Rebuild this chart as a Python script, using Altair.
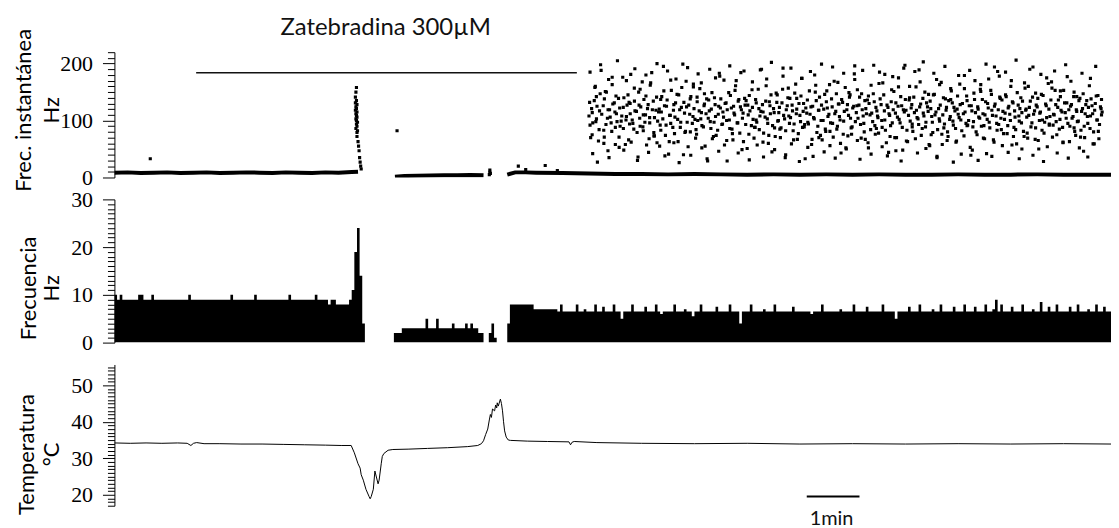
import altair as alt
import pandas as pd

# ---------------- data (time in minutes) ----------------
X_MAX = 18.9

# top panel: dense low-frequency baseline (drawn as thick line segments)
base1_t = [0, 0.25, 0.5, 0.75, 1.0, 1.25, 1.5, 1.75, 2.0, 2.25, 2.5, 2.75, 3.0, 3.25, 3.5, 3.75, 4.0, 4.25, 4.5, 4.62]
base1_f = [8.5, 9, 8, 8.5, 9, 8, 8.5, 9, 8, 8.5, 9, 8.5, 8, 9, 8.5, 8, 9, 8.5, 9.5, 10]
base2_t = [5.32, 5.5, 5.75, 6.0, 6.25, 6.5, 6.75, 7.0]
base2_f = [1.5, 2.5, 3, 3.5, 4, 4, 4.5, 4]
base3_t = [7.45, 7.6, 7.8, 8.0, 8.5, 9.0, 9.5, 10, 10.5, 11, 11.5, 12, 12.5, 13, 13.5, 14, 14.5,
           15, 15.5, 16, 16.5, 17, 17.5, 18, 18.5, 18.95]
base3_f = [5, 9, 9, 8.5, 8, 7, 6, 6, 5.5, 6, 5.5, 5, 5.5, 5, 5.5, 5, 5.5, 5, 5, 5.5, 5, 5, 5.5, 5, 5, 5]

# top panel: isolated points (outlier, burst, blip)
burst_t = [4.59, 4.58, 4.57, 4.59, 4.57, 4.60, 4.58, 4.59, 4.57, 4.60, 4.58, 4.59, 4.60, 4.58, 4.59,
           4.61, 4.59, 4.60, 4.58, 4.61, 4.60, 4.60, 4.62, 4.63, 4.64, 4.65, 4.66, 4.67, 4.68]
burst_f = [158, 150, 141, 135, 131, 128, 124, 121, 118, 115, 112, 109, 106, 103, 100,
           97, 94, 90, 86, 82, 79, 72, 63, 55, 47, 35, 27, 20, 15]
extra_t = [0.68, 5.36, 7.11, 7.12, 7.12, 7.13, 7.66, 7.80, 8.17, 8.40]
extra_f = [33, 82, 5, 9, 13, 7, 20, 14, 21, 12]

# top panel: high-frequency cloud after washout
cloud_t = [
    9.00, 9.02, 9.05, 9.06, 9.10, 9.13, 9.14, 9.18, 9.20, 9.23, 9.27, 9.28,
    9.31, 9.35, 9.36, 9.39, 9.42, 9.44, 9.48, 9.50, 9.52, 9.56, 9.57, 9.61,
    9.64, 9.65, 9.69, 9.71, 9.74, 9.77, 9.78, 9.82, 9.85, 9.86, 9.90, 9.93,
    9.95, 9.97, 10.01, 10.03, 10.06, 10.08, 10.11, 10.14, 10.15, 10.19, 10.22, 10.23,
    10.27, 10.29, 10.32, 10.35, 10.36, 10.40, 10.42, 10.45, 10.47, 10.51, 10.53, 10.55,
    10.59, 10.61, 10.63, 10.67, 10.69, 10.72, 10.74, 10.78, 10.80, 10.83, 10.85, 10.88,
    10.91, 10.92, 10.96, 10.98, 11.01, 11.04, 11.05, 11.09, 11.12, 11.13, 11.17, 11.19,
    11.22, 11.25, 11.27, 11.30, 11.32, 11.36, 11.38, 11.40, 11.44, 11.46, 11.48, 11.52,
    11.54, 11.57, 11.60, 11.61, 11.65, 11.67, 11.70, 11.73, 11.75, 11.78, 11.81, 11.83,
    11.86, 11.89, 11.91, 11.94, 11.96, 12.00, 12.02, 12.04, 12.08, 12.10, 12.13, 12.16,
    12.17, 12.21, 12.23, 12.26, 12.29, 12.30, 12.34, 12.37, 12.39, 12.42, 12.44, 12.47,
    12.50, 12.52, 12.55, 12.58, 12.60, 12.63, 12.66, 12.68, 12.71, 12.73, 12.76, 12.79,
    12.81, 12.84, 12.86, 12.89, 12.92, 12.94, 12.97, 13.00, 13.02, 13.05, 13.07, 13.10,
    13.13, 13.15, 13.18, 13.21, 13.23, 13.26, 13.28, 13.31, 13.34, 13.36, 13.39, 13.41,
    13.44, 13.47, 13.49, 13.52, 13.55, 13.57, 13.60, 13.62, 13.65, 13.68, 13.70, 13.73,
    13.75, 13.78, 13.81, 13.83, 13.86, 13.89, 13.91, 13.94, 13.96, 13.99, 14.02, 14.04,
    14.07, 14.09, 14.12, 14.15, 14.17, 14.20, 14.22, 14.25, 14.28, 14.30, 14.33, 14.35,
    14.38, 14.41, 14.43, 14.46, 14.48, 14.51, 14.54, 14.56, 14.59, 14.61, 14.64, 14.67,
    14.69, 14.72, 14.74, 14.77, 14.80, 14.82, 14.85, 14.87, 14.90, 14.93, 14.95, 14.98,
    15.00, 15.03, 15.06, 15.08, 15.11, 15.13, 15.16, 15.19, 15.21, 15.24, 15.26, 15.29,
    15.32, 15.34, 15.37, 15.39, 15.42, 15.45, 15.47, 15.50, 15.52, 15.55, 15.58, 15.60,
    15.63, 15.65, 15.68, 15.71, 15.73, 15.76, 15.78, 15.81, 15.84, 15.86, 15.89, 15.91,
    15.94, 15.97, 15.99, 16.02, 16.04, 16.07, 16.10, 16.12, 16.15, 16.17, 16.20, 16.23,
    16.25, 16.28, 16.30, 16.33, 16.36, 16.38, 16.41, 16.43, 16.46, 16.49, 16.51, 16.54,
    16.56, 16.59, 16.62, 16.64, 16.67, 16.69, 16.72, 16.75, 16.77, 16.80, 16.82, 16.85,
    16.88, 16.90, 16.93, 16.95, 16.98, 17.01, 17.03, 17.06, 17.08, 17.11, 17.14, 17.16,
    17.19, 17.21, 17.24, 17.27, 17.29, 17.32, 17.34, 17.37, 17.40, 17.42, 17.45, 17.47,
    17.50, 17.53, 17.55, 17.58, 17.60, 17.63, 17.66, 17.68, 17.71, 17.73, 17.76, 17.79,
    17.81, 17.84, 17.86, 17.89, 17.92, 17.94, 17.97, 17.99, 18.02, 18.05, 18.07, 18.10,
    18.12, 18.15, 18.18, 18.20, 18.23, 18.25, 18.28, 18.31, 18.33, 18.36, 18.38, 18.41,
    18.44, 18.46, 18.49, 18.51, 18.54, 18.57, 18.59, 18.62, 18.64, 18.67, 18.70, 18.72,
    18.75, 18.77, 18.80, 18.83, 18.85, 18.88, 18.89, 18.87, 18.84, 18.78, 18.73, 18.66,
]
cloud_fa = [
    108, 92, 121, 75, 135, 98, 142, 64, 117, 188, 126, 83,
    151, 104, 47, 119, 96, 163, 131, 88, 112, 139, 71, 99,
    176, 123, 58, 107, 145, 94, 130, 101, 85, 157, 116, 36,
    127, 90, 168, 110, 97, 143, 121, 68, 105, 184, 134, 79,
    118, 61, 115, 92, 137, 103, 152, 74, 125, 41, 109, 171,
    88, 128, 106, 146, 63, 119, 97, 199, 132, 81, 124, 54,
    111, 138, 95, 159, 102, 76, 141, 117, 103, 166, 89, 129,
    112, 29, 136, 98, 120, 72, 140, 107, 83, 125, 178, 93,
    115, 57, 131, 100, 149, 86, 122, 66, 113, 161, 96, 134,
    78, 119, 104, 187, 127, 51, 110, 144, 91, 123, 69, 137,
    101, 155, 84, 116, 128, 62, 106, 173, 95, 133, 112, 45,
    121, 87, 148, 99, 114, 70, 131, 192, 103, 82, 126, 108,
    139, 59, 117, 94, 164, 120, 77, 109, 143, 88, 130, 33,
    113, 97, 152, 124, 67, 105, 180, 135, 90, 118, 74, 127,
    100, 146, 81, 122, 111, 56, 138, 95, 169, 116, 85, 129,
    107, 43, 132, 99, 158, 119, 73, 141, 104, 89, 125, 196,
    114, 65, 127, 93, 147, 108, 80, 121, 136, 52, 110, 162,
    98, 133, 76, 117, 105, 185, 128, 88, 145, 101, 61, 123,
    112, 91, 154, 119, 70, 131, 106, 175, 96, 126, 48, 115,
    137, 83, 109, 160, 122, 94, 141, 68, 118, 103, 189, 129,
    86, 113, 150, 97, 124, 58, 134, 107, 79, 146, 115, 37,
    121, 99, 167, 110, 87, 138, 123, 72, 102, 156, 131, 92,
    117, 64, 143, 105, 128, 82, 112, 179, 95, 135, 100, 53,
    126, 89, 148, 114, 75, 120, 104, 163, 137, 91, 110, 42,
    130, 97, 153, 118, 66, 125, 108, 186, 93, 139, 84, 116,
    102, 145, 77, 122, 111, 170, 133, 88, 106, 59, 127, 99,
    140, 114, 81, 157, 120, 69, 109, 134, 96, 194, 117, 87,
    124, 50, 113, 146, 101, 78, 129, 105, 165, 92, 136, 71,
    111, 153, 98, 123, 85, 142, 115, 62, 131, 104, 177, 119,
    90, 128, 107, 150, 74, 116, 99, 139, 83, 121, 46, 112,
    135, 95, 161, 108, 126, 80, 118, 143, 101, 68, 124, 110,
]
cloud_fb = [
    132, 70, 114, 96, 158, 103, 125, 84, 147, 111, 60, 138,
    93, 119, 172, 106, 81, 129, 115, 143, 98, 53, 122, 108,
    86, 140, 101, 127, 66, 112, 181, 95, 134, 117, 79, 150,
    104, 124, 89, 137, 110, 57, 128, 96, 162, 119, 73, 105,
    141, 99, 120, 83, 115, 195, 126, 92, 136, 63, 109, 153,
    118, 77, 131, 102, 145, 88, 123, 40, 113, 169, 97, 127,
    80, 142, 107, 121, 69, 133, 100, 156, 114, 91, 126, 55,
    138, 104, 117, 86, 149, 97, 128, 74, 111, 183, 122, 94,
    106, 130, 65, 119, 101, 144, 85, 125, 110, 170, 96, 137,
    124, 49, 113, 139, 93, 127, 76, 117, 154, 102, 88, 131,
    97, 121, 108, 190, 115, 78, 134, 103, 60, 126, 145, 91,
    114, 72, 132, 100, 123, 87, 155, 109, 35, 119, 140, 95,
    105, 127, 82, 148, 112, 67, 130, 98, 174, 116, 89, 122,
    136, 94, 111, 58, 125, 103, 150, 79, 118, 141, 100, 66,
    120, 85, 133, 107, 163, 96, 124, 71, 112, 147, 90, 129,
    101, 137, 76, 116, 52, 128, 109, 145, 87, 122, 182, 98,
    126, 104, 141, 69, 119, 95, 135, 112, 61, 130, 84, 113,
    147, 91, 123, 108, 78, 138, 100, 166, 117, 83, 127, 44,
    109, 133, 96, 151, 113, 70, 125, 102, 142, 88, 119, 197,
    118, 63, 136, 99, 128, 81, 114, 159, 105, 93, 124, 74,
    139, 108, 89, 131, 116, 56, 121, 97, 145, 110, 172, 84,
    103, 127, 76, 140, 94, 118, 65, 135, 107, 152, 99, 123,
    86, 120, 111, 164, 101, 130, 73, 115, 143, 92, 126, 39,
    117, 98, 137, 80, 124, 106, 155, 90, 112, 68, 133, 102,
    122, 87, 146, 109, 62, 129, 95, 119, 178, 104, 136, 77,
    113, 142, 91, 125, 100, 57, 131, 117, 84, 149, 108, 121,
    96, 134, 72, 118, 106, 160, 123, 89, 141, 111, 67, 127,
    139, 100, 115, 83, 144, 97, 126, 54, 120, 107, 168, 92,
    110, 128, 75, 136, 102, 118, 88, 153, 114, 131, 95, 63,
    125, 104, 142, 81, 119, 98, 135, 71, 116, 147, 90, 128,
    107, 123, 86, 138, 112, 59, 130, 101, 144, 93, 121, 115,
]
# wider-spread points of the cloud (paired with every other time of cloud_t)
cloud_fc = [
    185, 42, 160, 27, 198, 71, 150, 35, 176, 58, 205, 90,
    48, 170, 132, 62, 191, 30, 155, 82, 180, 44, 166, 73,
    200, 55, 142, 38, 187, 95, 61, 173, 26, 158, 79, 193,
    39, 164, 84, 182, 52, 147, 33, 190, 68, 175, 46, 138,
    171, 29, 196, 77, 153, 43, 184, 63, 135, 31, 168, 88,
    57, 189, 36, 161, 74, 202, 49, 145, 85, 178, 40, 157,
    192, 66, 139, 28, 174, 93, 53, 186, 37, 162, 70, 199,
    45, 152, 81, 194, 34, 167, 60, 183, 50, 149, 76, 172,
    154, 32, 188, 67, 143, 41, 197, 86, 165, 54, 181, 38,
    72, 177, 47, 159, 29, 192, 64, 140, 89, 186, 43, 168,
    203, 51, 146, 75, 183, 35, 163, 58, 195, 80, 137, 27,
    62, 179, 41, 156, 91, 188, 48, 170, 30, 151, 69, 199,
    173, 37, 194, 83, 141, 56, 185, 44, 160, 72, 206, 33,
    50, 166, 78, 190, 39, 148, 65, 181, 28, 175, 94, 157,
    187, 43, 152, 61, 198, 34, 169, 87, 142, 52, 183, 70,
    36, 174, 59, 195, 81, 137,
]

# middle panel: binned frequency (Hz), 0.05-min bins starting at t = 0
BIN = 0.05
hist_v = [
    10, 9, 10, 9, 9, 9, 9, 9, 9, 10, 10, 9, 9, 9, 10, 9, 9, 9, 9, 9,
    9, 9, 9, 9, 9, 9, 9, 9, 10, 9, 9, 9, 9, 9, 9, 9, 9, 9, 9, 9,
    9, 9, 9, 9, 10, 9, 9, 9, 9, 9, 9, 9, 9, 10, 9, 9, 9, 9, 9, 9,
    9, 9, 9, 9, 9, 9, 10, 9, 9, 9, 9, 9, 9, 9, 9, 9, 10, 9, 9, 9,
    9, 8, 9, 9, 8, 8, 8, 8, 8, 9, 11, 19, 24, 14, 4, 0, 0, 0, 0, 0,
    0, 0, 0, 0, 0, 0, 2, 2, 2, 3, 3, 3, 3, 3, 3, 3, 3, 3, 5, 3,
    3, 3, 5, 3, 3, 3, 3, 3, 4, 3, 3, 3, 3, 4, 3, 4, 3, 3, 2, 2,
    0, 0, 2, 4, 1, 0, 0, 0, 0, 4, 8, 8, 8, 8, 8, 8, 8, 8, 8, 7,
    7, 7, 7, 7, 7, 7, 7, 7, 6.5, 8, 6.5, 6.5, 6.5, 6.5, 6.5, 8, 6.5, 6.5, 7, 6.5,
    6.5, 6.5, 8, 6.5, 6.5, 7.5, 6.5, 6.5, 6.5, 8, 6.5, 6.5, 5, 6.5, 6.5, 6.5, 8, 6.5, 6.5, 6.5,
    6.5, 7.5, 6.5, 6.5, 6.5, 8, 6.5, 6, 6.5, 6.5, 6.5, 6.5, 8, 6.5, 6.5, 6.5, 7, 6.5, 6.5, 5.5,
    6.5, 6.5, 8, 6.5, 6.5, 6.5, 6.5, 6.5, 7.5, 6.5, 6.5, 6.5, 6.5, 8, 6.5, 6.5, 6.5, 4, 6.5, 6.5,
    6.5, 8, 6.5, 6.5, 6.5, 6.5, 7, 6.5, 6.5, 6.5, 8, 6.5, 6.5, 6.5, 6.5, 6.5, 6.5, 7.5, 6.5, 6.5,
    6.5, 6.5, 6.5, 6.5, 6, 6.5, 6.5, 6.5, 8, 6.5, 6.5, 6.5, 6.5, 6.5, 6.5, 7, 6.5, 6.5, 6.5, 6.5,
    8, 6.5, 6.5, 6.5, 6.5, 7.5, 6.5, 6.5, 6.5, 6.5, 6.5, 8, 6.5, 6.5, 6.5, 6.5, 5, 6.5, 6.5, 6.5,
    6.5, 7.5, 6.5, 6.5, 6.5, 8, 6.5, 6.5, 6.5, 6.5, 7, 6.5, 6.5, 8, 6.5, 6.5, 6.5, 6.5, 7.5, 6.5,
    6.5, 6.5, 8, 6.5, 6.5, 6.5, 7.5, 6.5, 6.5, 6.5, 8, 6.5, 6.5, 7, 9, 6.5, 8, 6.5, 6.5, 6.5,
    7.5, 6.5, 6.5, 6.5, 8, 6.5, 6.5, 6.5, 7, 6.5, 6.5, 8.5, 6.5, 6.5, 7.5, 6.5, 6.5, 8, 6.5, 6.5,
    6.5, 6.5, 7.5, 6.5, 6.5, 8, 6.5, 6.5, 6.5, 7, 6.5, 6.5, 8, 6.5, 6.5, 7.5, 6.5, 6.5, 6.5,
]

# bottom panel: temperature (°C)
temp_t = [0, 0.3, 0.6, 0.9, 1.2, 1.38, 1.45, 1.5, 1.56, 1.7, 2.0, 2.4, 2.8, 3.2, 3.6, 4.0, 4.3, 4.49,
          4.55, 4.62, 4.66, 4.68, 4.72, 4.77, 4.83, 4.85, 4.87, 4.91, 4.94, 5.0, 5.02, 5.06, 5.08,
          5.11, 5.19, 5.28, 5.57, 5.94, 6.32, 6.70, 6.89, 6.96, 7.0, 7.04, 7.08, 7.11, 7.13, 7.15,
          7.17, 7.21, 7.23, 7.25, 7.26, 7.28, 7.32, 7.34, 7.36, 7.38, 7.40, 7.43, 7.47, 7.51, 7.83,
          8.21, 8.62, 8.65, 8.68, 8.72, 9.15, 10, 11, 12, 13, 14, 15, 16, 17, 18, 18.9]
temp_c = [34.2, 34.1, 34.2, 34.1, 34.2, 34.1, 33.5, 34.1, 34.3, 34.0, 34.0, 33.9, 33.9, 33.8, 33.7,
          33.6, 33.5, 33.5, 31.5, 28.5, 27.3, 25.5, 24.0, 21.5, 19.5, 18.9, 19.5, 21.5, 26.5, 23.0,
          24.0, 28.5, 30.5, 31.3, 32.2, 32.4, 32.5, 32.7, 32.9, 33.2, 33.5, 34.0, 34.8, 36.5, 38.0,
          40.5, 42.0, 41.2, 43.5, 43.0, 44.6, 43.8, 45.2, 44.3, 46.2, 45.0, 43.0, 40.0, 37.5, 35.8,
          35.0, 34.9, 34.7, 34.6, 34.5, 33.7, 34.4, 34.6, 34.3, 34.1, 34.0, 34.1, 33.9, 34.0, 33.9,
          34.0, 33.9, 34.0, 33.9]

# annotations
drug_label = "Zatebradina 300µM"
drug_t = [1.55, 8.77]
drug_f = 184
drug_text_t = 3.15
drug_text_f = 263
scale_label = "1min"
scale_t = [13.13, 14.13]
scale_c = 19.5
scale_text_t = 13.6
scale_text_c = 13.4

# ---------------- tables ----------------
base_df = pd.DataFrame(
    [{"t": t, "f": f, "seg": 1} for t, f in zip(base1_t, base1_f)]
    + [{"t": t, "f": f, "seg": 2} for t, f in zip(base2_t, base2_f)]
    + [{"t": t, "f": f, "seg": 3} for t, f in zip(base3_t, base3_f)]
)
pts_df = pd.DataFrame(
    [{"t": t, "f": f} for t, f in zip(burst_t, burst_f)]
    + [{"t": t, "f": f} for t, f in zip(extra_t, extra_f)]
    + [{"t": t, "f": f} for t, f in zip(cloud_t, cloud_fa)]
    + [{"t": t + 0.012, "f": f} for t, f in zip(cloud_t, cloud_fb)]
    + [{"t": t + 0.02, "f": f} for t, f in zip(cloud_t[::2], cloud_fc)]
)
hist_df = pd.DataFrame({"t": [i * BIN for i in range(len(hist_v))] + [len(hist_v) * BIN],
                        "v": hist_v + [hist_v[-1]]})
temp_df = pd.DataFrame({"t": temp_t, "c": temp_c})

W = 1002
XS = alt.Scale(domain=[0, X_MAX], nice=False, zero=False)
BLACK = "#000000"
TITLE_FS = 22
SERIF = "Liberation Serif, Times New Roman, DejaVu Serif, serif"


def y_axis(title, values, major_test, title_x, title_y, lh):
    return alt.Axis(
        title=title,
        values=values,
        labelExpr=f"{major_test} ? datum.label : ''",
        tickSize={"condition": {"test": major_test, "value": 12}, "value": 7},
        labelFont=SERIF, labelFontSize=22, labelColor=BLACK,
        labelPadding=10, labelOverlap=False,
        domainColor=BLACK, domainWidth=1, tickColor=BLACK, tickWidth=1,
        grid=False,
        titleFont="Lato", titleFontSize=TITLE_FS, titleFontWeight="normal", titleColor=BLACK,
        titleAngle=-90, titleAlign="center", titleBaseline="alphabetic",
        titleX=title_x, titleY=title_y, titleLineHeight=lh,
    )


# ---------------- top panel ----------------
top_y = alt.Scale(domain=[0, 220], nice=False, zero=True)
top_axis = y_axis(["Frec. instantánea", "Hz"], list(range(0, 221, 10)),
                  "datum.value % 100 === 0", -84, 58, 28)
TY = lambda field: alt.Y(field, scale=top_y, axis=top_axis)

top_base = alt.Chart(base_df).mark_line(color=BLACK, strokeWidth=4, clip=True).encode(
    x=alt.X("t:Q", scale=XS, axis=None), y=TY("f:Q"), detail="seg:N",
)
top_pts = alt.Chart(pts_df).mark_square(color=BLACK, size=10, opacity=1, clip=True).encode(
    x=alt.X("t:Q", scale=XS, axis=None), y=TY("f:Q"),
)
drug_df = pd.DataFrame({"t": [drug_t[0]], "t2": [drug_t[1]], "f": [drug_f]})
top_rule = alt.Chart(drug_df).mark_rule(color="#111111", strokeWidth=1.5).encode(
    x=alt.X("t:Q", scale=XS, axis=None), x2="t2:Q", y=TY("f:Q"),
)
drug_txt_df = pd.DataFrame({"t": [drug_text_t], "f": [drug_text_f], "label": [drug_label]})
top_text = alt.Chart(drug_txt_df).mark_text(
    font="Lato", fontSize=24, color="#111111", align="left", baseline="middle"
).encode(
    x=alt.X("t:Q", scale=XS, axis=None), y=TY("f:Q"), text="label:N",
)
top = alt.layer(top_base, top_pts, top_rule, top_text).properties(width=W, height=126)

# ---------------- middle panel ----------------
mid_y = alt.Scale(domain=[0, 30], nice=False, zero=True)
mid_axis = y_axis(["Frecuencia", "Hz"], list(range(0, 31, 1)),
                  "datum.value % 10 === 0", -79, 89, 23)
mid = alt.Chart(hist_df).mark_area(interpolate="step-after", color=BLACK, clip=True).encode(
    x=alt.X("t:Q", scale=XS, axis=None),
    y=alt.Y("v:Q", scale=mid_y, axis=mid_axis),
).properties(width=W, height=144)

# ---------------- bottom panel ----------------
bot_y = alt.Scale(domain=[17, 55.7], nice=False, zero=False)
bot_axis = y_axis(["Temperatura", "°C"], list(range(17, 56, 1)),
                  "datum.value % 10 === 0", -81, 90, 25)
BY = lambda field: alt.Y(field, scale=bot_y, axis=bot_axis)

bot_line = alt.Chart(temp_df).mark_line(color=BLACK, strokeWidth=1, clip=True).encode(
    x=alt.X("t:Q", scale=XS, axis=None), y=BY("c:Q"),
)
scale_df = pd.DataFrame({"t": [scale_t[0]], "t2": [scale_t[1]], "c": [scale_c]})
bot_rule = alt.Chart(scale_df).mark_rule(color=BLACK, strokeWidth=2).encode(
    x=alt.X("t:Q", scale=XS, axis=None), x2="t2:Q", y=BY("c:Q"),
)
scale_txt_df = pd.DataFrame({"t": [scale_text_t], "c": [scale_text_c], "label": [scale_label]})
bot_text = alt.Chart(scale_txt_df).mark_text(
    font="Lato", fontSize=20, color="#111111", align="center", baseline="middle"
).encode(
    x=alt.X("t:Q", scale=XS, axis=None), y=BY("c:Q"), text="label:N",
)
bot = alt.layer(bot_line, bot_rule, bot_text).properties(width=W, height=142)

chart = alt.vconcat(top, mid, bot, spacing=22, bounds="flush").properties(
    padding={"left": 5, "top": 6, "right": 0, "bottom": 0},
    background="white",
).configure_view(stroke=None)

chart.save("out.html", embed_options={"renderer": "svg", "actions": False})
